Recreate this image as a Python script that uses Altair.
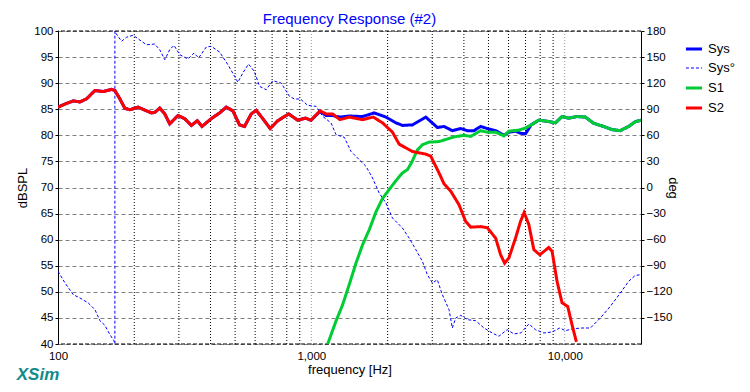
import altair as alt
import pandas as pd

# ---------------- data ----------------
s2_freq = [100, 106.6, 114.9, 122.1, 129.7, 139.9, 150.8, 162.7, 167.7, 175.4, 183.5, 192.1,
           207.1, 223.5, 233.9, 240.9, 252.1, 263.9, 276.0, 297.6, 316.2, 336.0, 354.8, 369.9,
           402.8, 434.3, 461.5, 490.0, 520.6, 544.7, 578.9, 605.8, 643.2, 687.8, 736.8, 814.0,
           883.5, 947, 997, 1082, 1143, 1213, 1297, 1411, 1592, 1754, 1909, 2090, 2221, 2505,
           2829, 2960, 3190, 3339, 3548, 3825, 4064, 4254, 4658, 4944, 5338, 5585, 5790, 6020,
           6395, 6692, 6915, 7216, 7551, 7973, 8650, 8913, 9326, 9759, 10275, 10684, 11120]
s2_db = [85.4, 86.0, 86.6, 86.4, 87.0, 88.6, 88.4, 88.8, 88.6, 87.0, 85.2, 84.9,
         85.4, 84.7, 84.3, 84.4, 85.2, 84.1, 82.2, 83.8, 83.2, 81.9, 82.8, 81.7,
         83.2, 84.3, 85.4, 84.7, 82.0, 81.7, 84.1, 84.8, 83.2, 81.3, 82.8, 84.1,
         82.9, 83.3, 82.9, 84.7, 84.1, 84.1, 83.0, 83.5, 83.0, 83.5, 82.4, 80.6, 78.3, 76.9,
         76.4, 76.0, 72.8, 70.7, 69.3, 66.7, 63.5, 62.4, 62.5, 62.3, 60.3, 57.1, 55.5, 56.5,
         60.3, 63.5, 65.2, 62.9, 58.1, 57.1, 58.5, 57.8, 52.0, 47.9, 47.2, 43.7, 40.4]

s1_freq = [1160, 1251, 1328, 1411, 1500, 1592, 1692, 1798, 1909, 2028, 2156, 2288, 2394, 2505,
           2621, 2743, 2914, 3190, 3494, 3656, 4004, 4254, 4658, 4944, 5338, 5753, 6020, 6590,
           7003, 7368, 7902, 8517, 9192, 9759, 10368, 11178, 12063, 13011, 14240, 15358,
           16570, 17865, 18981, 20000]
s1_db = [40.0, 44.4, 47.5, 51.4, 55.5, 59.0, 61.9, 65.3, 67.9, 69.6, 71.3, 72.8, 73.4, 75.1,
         77.2, 78.2, 78.7, 78.8, 79.4, 79.7, 80.0, 79.8, 80.9, 80.6, 80.6, 79.9, 80.8, 81.0,
         81.4, 82.0, 82.9, 82.7, 82.4, 83.6, 83.3, 83.6, 83.5, 82.3, 81.7, 81.1,
         80.9, 81.7, 82.6, 82.9]

sys_freq = [100, 106.6, 114.9, 122.1, 129.7, 139.9, 150.8, 162.7, 167.7, 175.4, 183.5, 192.1,
            207.1, 223.5, 233.9, 240.9, 252.1, 263.9, 276.0, 297.6, 316.2, 336.0, 354.8, 369.9,
            402.8, 434.3, 461.5, 490.0, 520.6, 544.7, 578.9, 605.8, 643.2, 687.8, 736.8, 814.0,
            883.5, 947, 997, 1082, 1143, 1213, 1297, 1411, 1592, 1770, 1969, 2156, 2288, 2505,
            2829, 3142, 3339, 3600, 3886, 4125, 4384, 4658, 4944, 5338, 5753, 6020, 6395, 6692,
            7003, 7368, 7902, 8517, 9192, 9759, 10368, 11178, 12063, 13011, 14240, 15358,
            16570, 17865, 18981, 20000]
sys_db = [85.4, 86.0, 86.6, 86.4, 87.0, 88.6, 88.4, 88.8, 88.6, 87.0, 85.2, 84.9,
          85.4, 84.7, 84.3, 84.4, 85.2, 84.1, 82.2, 83.8, 83.2, 81.9, 82.8, 81.7,
          83.2, 84.3, 85.4, 84.7, 82.0, 81.7, 84.1, 84.8, 83.2, 81.3, 82.8, 84.1,
          82.9, 83.3, 82.9, 84.6, 83.8, 83.8, 83.5, 83.7, 83.6, 84.3, 83.5, 82.4, 81.9, 82.0,
          83.5, 81.5, 81.7, 80.9, 81.3, 80.9, 80.9, 81.7, 81.3, 80.9, 80.0, 80.6, 80.8, 80.4,
          80.3, 82.0, 82.9, 82.7, 82.4, 83.6, 83.3, 83.6, 83.5, 82.3, 81.7, 81.1,
          80.9, 81.7, 82.6, 82.9]

phase_freq = [100, 106.6, 114.9, 122.1, 131.6, 139.9, 146.4, 153.1, 160.3, 166.2, 167.7, 167.7,
              168.9, 178.2, 186.4, 197.9, 213.6, 223.5, 240.9, 252.1, 263.9, 276.0, 287.0, 302.2,
              325.8, 344.1, 359.0, 384.8, 402.8, 434.3, 468.3, 497.6, 512.6, 536.4, 564.9, 596.6,
              624.3, 663.3, 704.2, 759.9, 819.2, 857.5, 905.2, 966.9, 1043.6, 1108, 1196, 1251,
              1349, 1433, 1545, 1642, 1743, 1852, 1969, 2090, 2288, 2431, 2584, 2743, 2870, 3004,
              3142, 3288, 3494, 3600, 3713, 3886, 4125, 4452, 4799, 5173, 5497, 5927, 6299, 6712,
              7216, 7665, 8266, 8913, 9557, 10065, 10849, 11701, 12624, 13822, 15132, 16570,
              17865, 18981, 20000]
phase_deg = [-96.4, -109.8, -123.3, -127.1, -132.8, -140.5, -153.2, -158.5, -169.3, -176.2, -180, 180,
             177.7, 168.2, 172.8, 175.1, 168.2, 164.2, 165, 158.5, 147, 158.5, 163.5, 152.8,
             147.8, 154.7, 149, 161.6, 162.4, 155.8, 141.3, 127.9, 121, 131.7, 142, 133,
             116.4, 112.5, 122.8, 120.2, 104.9, 101.8, 101.8, 94.5, 93.3, 81.9, 74.2, 60.8,
             57.7, 41.6, 32, 24.4, 11, -6.3, -17.8, -35.1, -46.6, -58.1, -71.5, -84.9, -100.3, -109.8,
             -106.1, -123.3, -140.5, -161.6, -150.1, -147, -152, -153.2, -161.6, -167.3, -171.1, -163.5, -168.4, -167.3,
             -157, -163.5, -167.3, -166.2, -161.6, -164.6, -162.4, -161.6, -161.6, -150.1, -136.7, -121.4,
             -108, -101.1, -100.3]

grid_dark = [200, 300, 400, 500, 600, 700, 800, 900, 2000, 3000, 4000, 5000, 6000, 7000, 8000, 9000]
grid_light = [1000, 10000]
border_db = [40, 100]
db_ticks = list(range(40, 101, 5))
deg_ticks = list(range(-150, 181, 30))
x_ticks = [100, 1000, 10000]

series_order = ["Sys", "Sys°", "S1", "S2"]
series_colors = ["#0000ff", "#0000ff", "#00cc33", "#ff0000"]
series_dash = [[1, 0], [3, 2], [1, 0], [1, 0]]
series_width = [3, 1, 3, 3]

# ---------------- chart ----------------
W, H = 583, 313
FONT = "Liberation Sans"

xscale = alt.Scale(type="log", domain=[100, 20000], nice=False)
dbscale = alt.Scale(domain=[40, 100], nice=False, zero=False)
degscale = alt.Scale(domain=[-180, 180], nice=False, zero=False)

xaxis = alt.Axis(values=x_ticks, format=",d", grid=False, domain=False, ticks=False,
                 labelFlush=False, labelFontSize=11.5, labelPadding=6, labelColor="black",
                 title="frequency [Hz]", titleFontSize=13, titleFontWeight="normal",
                 titleColor="black", titlePadding=2)
X = alt.X("freq:Q", scale=xscale, axis=xaxis)

leg = alt.Legend(title=None, orient="none", legendX=626, legendY=8, symbolType="stroke",
                 symbolSize=260, labelFontSize=13, labelColor="black", rowPadding=3,
                 labelOffset=4)
color = alt.Color("series:N", scale=alt.Scale(domain=series_order, range=series_colors), legend=leg)
dash = alt.StrokeDash("series:N", scale=alt.Scale(type="ordinal", domain=series_order, range=series_dash),
                      legend=leg)
swidth = alt.StrokeWidth("series:N", scale=alt.Scale(type="ordinal", domain=series_order,
                                                     range=series_width), legend=leg)


def df_line(freq, vals, name, col):
    return pd.DataFrame({"freq": freq, col: vals, "series": name})


vdark = alt.Chart(pd.DataFrame({"freq": grid_dark})).mark_rule(
    color="black", strokeDash=[1, 2], strokeWidth=1).encode(x=X)
vlight = alt.Chart(pd.DataFrame({"freq": grid_light})).mark_rule(
    color="#9a9a9a", strokeDash=[1, 2], strokeWidth=1).encode(x=X)

left_axis = alt.Axis(orient="left", values=db_ticks, grid=True, gridDash=[4, 3],
                     gridColor="#808080", gridOpacity=1, domainColor="black", domainWidth=1,
                     tickColor="black", tickSize=3, labelFontSize=11.5, labelColor="black",
                     labelPadding=2, title="dBSPL", titleFontSize=13, titleFontWeight="normal",
                     titleColor="black", titlePadding=4)
sys_line = alt.Chart(df_line(sys_freq, sys_db, "Sys", "db")).mark_line(clip=True).encode(
    x=X, y=alt.Y("db:Q", scale=dbscale, axis=left_axis), color=color, strokeDash=dash,
    strokeWidth=swidth)

border = alt.Chart(pd.DataFrame({"db": border_db})).mark_rule(
    color="black", strokeDash=[4, 2], strokeWidth=1).encode(
    y=alt.Y("db:Q", scale=dbscale, axis=None))

right_axis = alt.Axis(orient="right", values=deg_ticks, grid=False, domainColor="black",
                      domainWidth=1, tickColor="black", tickSize=3, labelFontSize=11.5,
                      labelColor="black", labelPadding=2, title="deg", titleFontSize=13,
                      titleFontWeight="normal", titleColor="black", titlePadding=-6)
phase_line = alt.Chart(df_line(phase_freq, phase_deg, "Sys°", "deg")).mark_line(clip=True).encode(
    x=X, y=alt.Y("deg:Q", scale=degscale, axis=right_axis), color=color, strokeDash=dash,
    strokeWidth=swidth)

s1_line = alt.Chart(df_line(s1_freq, s1_db, "S1", "db")).mark_line(clip=True).encode(
    x=X, y=alt.Y("db:Q", scale=dbscale, axis=None), color=color, strokeDash=dash,
    strokeWidth=swidth)
s2_line = alt.Chart(df_line(s2_freq, s2_db, "S2", "db")).mark_line(clip=True).encode(
    x=X, y=alt.Y("db:Q", scale=dbscale, axis=None), color=color, strokeDash=dash,
    strokeWidth=swidth)

brand = alt.Chart(pd.DataFrame({"t": ["XSim"]})).mark_text(
    font=FONT, fontSize=17, fontStyle="italic", fontWeight="bold", color="#108a8a",
    align="center", baseline="middle").encode(text="t:N", x=alt.value(-20), y=alt.value(344))

chart = alt.layer(vdark, vlight, sys_line, border, phase_line, s1_line, s2_line, brand).resolve_scale(
    y="independent").properties(
    width=W, height=H,
    title=alt.Title("Frequency Response (#2)", color="#0000ff", fontSize=15, fontWeight="normal",
                    font=FONT, anchor="middle", offset=-2),
    padding={"left": 50, "top": 23, "right": 101, "bottom": 40},
    autosize=alt.AutoSizeParams(type="none"),
).configure(font=FONT).configure_view(stroke=None).configure_axis(labelFont=FONT, titleFont=FONT)

chart.save("out.html", embed_options={"renderer": "svg", "actions": False})
